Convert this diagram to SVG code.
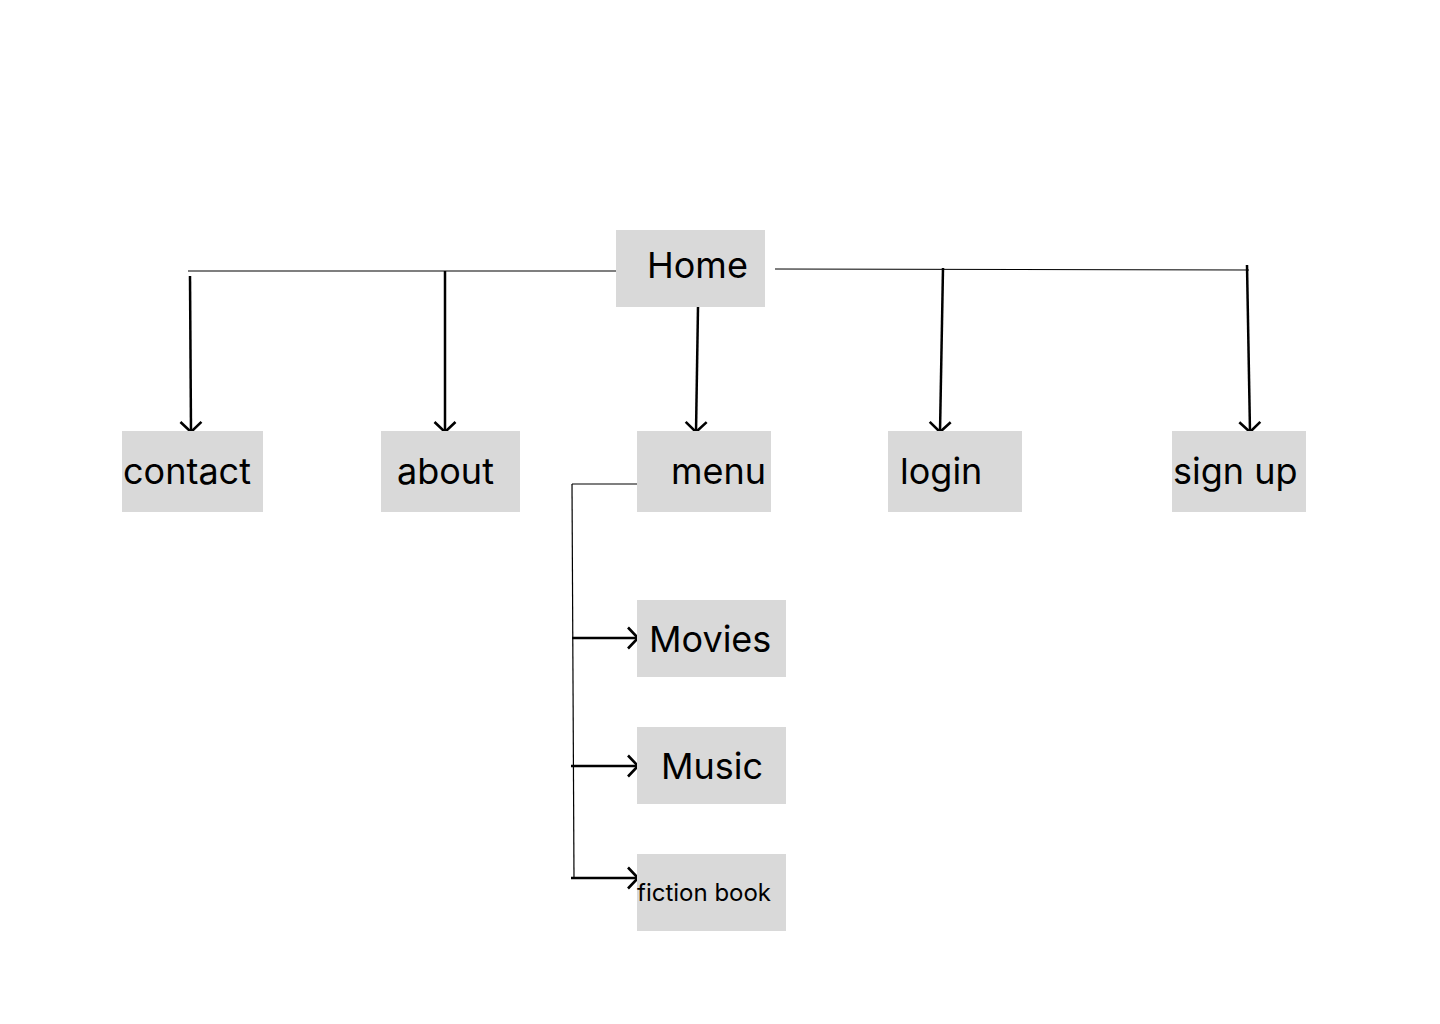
<svg xmlns="http://www.w3.org/2000/svg" width="1440" height="1024" viewBox="0 0 1440 1024">
<style>
.box{fill:#d9d9d9}
.lbl{font-family:Inter,"Liberation Sans",sans-serif;font-size:36px;fill:#000}
.small{font-size:24px}
.thin{stroke:#000;stroke-width:1.2;fill:none}
.arr{stroke:#000;stroke-width:2.5;fill:none;marker-end:url(#ah)}
</style>
<defs>
<marker id="ah" viewBox="0 0 24 24" refX="22" refY="12" markerWidth="24" markerHeight="24" markerUnits="userSpaceOnUse" orient="auto">
<polyline points="12,1.5 22,12 12,22.5" fill="none" stroke="#000" stroke-width="2.6"/>
</marker>
</defs>
<rect width="1440" height="1024" fill="#fff"/>
<g id="connectors">
<line class="thin" x1="188" y1="271" x2="616" y2="271"/>
<line class="thin" x1="775" y1="269" x2="1249" y2="270"/>
<path class="arr" d="M190,276 L191,432"/>
<path class="arr" d="M445,271 L445,432"/>
<path class="arr" d="M698,307 L696,432"/>
<path class="arr" d="M943,268 L940,432"/>
<path class="arr" d="M1247,265 L1250,432"/>
<line class="thin" x1="572" y1="484" x2="637" y2="484"/>
<line class="thin" x1="572" y1="484" x2="574" y2="878"/>
<path class="arr" d="M572,638 L638,638"/>
<path class="arr" d="M571,766 L638,766"/>
<path class="arr" d="M571,878 L638,878"/>
</g>
<g id="home"><rect class="box" x="616" y="230" width="149" height="77"/><text class="lbl" x="647" y="278">Home</text></g>
<g id="contact"><rect class="box" x="122" y="431" width="141" height="81"/><text class="lbl" x="123" y="484">contact</text></g>
<g id="about"><rect class="box" x="381" y="431" width="139" height="81"/><text class="lbl" x="397" y="484">about</text></g>
<g id="menu"><rect class="box" x="637" y="431" width="134" height="81"/><text class="lbl" x="671" y="484">menu</text></g>
<g id="login"><rect class="box" x="888" y="431" width="134" height="81"/><text class="lbl" x="900" y="484">login</text></g>
<g id="signup"><rect class="box" x="1172" y="431" width="134" height="81"/><text class="lbl" x="1173" y="484">sign up</text></g>
<g id="movies"><rect class="box" x="637" y="600" width="149" height="77"/><text class="lbl" x="649" y="652">Movies</text></g>
<g id="music"><rect class="box" x="637" y="727" width="149" height="77"/><text class="lbl" x="661" y="779">Music</text></g>
<g id="fiction"><rect class="box" x="637" y="854" width="149" height="77"/><text class="lbl small" x="637" y="901">fiction book</text></g>
</svg>
